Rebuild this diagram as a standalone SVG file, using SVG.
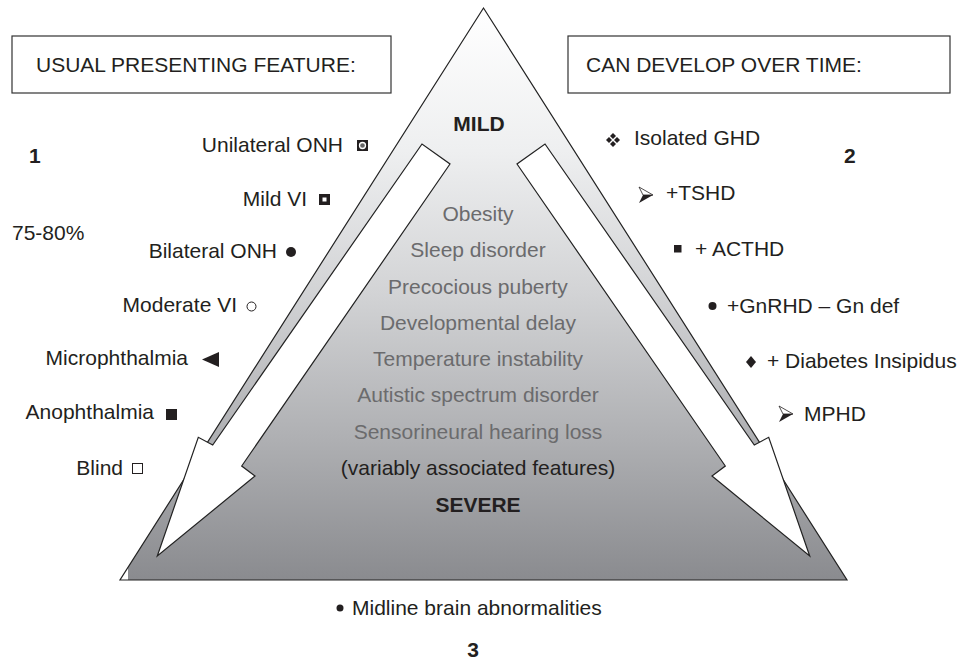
<svg xmlns="http://www.w3.org/2000/svg" width="961" height="672" viewBox="0 0 961 672">
<defs>
<linearGradient id="g" gradientUnits="userSpaceOnUse" x1="0" y1="8" x2="0" y2="580">
<stop offset="0" stop-color="#ffffff"/>
<stop offset="0.25" stop-color="#eeeff0"/>
<stop offset="0.5" stop-color="#d2d3d5"/>
<stop offset="0.75" stop-color="#afb0b3"/>
<stop offset="1" stop-color="#8a8b8f"/>
</linearGradient>
</defs>
<style>
text{font-family:"Liberation Sans",Arial,sans-serif;font-size:21px;fill:#231f20}
.b{font-weight:bold}
.c{text-anchor:middle}
.e{text-anchor:end}
.g{fill:#6b6b6d}
.box{fill:#fff;stroke:#333;stroke-width:1.2}
.ln{fill:none;stroke:#222;stroke-width:1.2;stroke-linejoin:miter}
.arr{fill:#fff;stroke:#222;stroke-width:1.2;stroke-linejoin:miter}
.k{fill:#231f20}
.o{fill:#fff;stroke:#231f20;stroke-width:1}
</style>
<g id="box-left">
<rect class="box" x="12" y="36" width="379" height="57"/>
<text x="36" y="72">USUAL PRESENTING FEATURE:</text>
</g>
<g id="box-right">
<rect class="box" x="568" y="36" width="382" height="57"/>
<text x="586" y="72">CAN DEVELOP OVER TIME:</text>
</g>
<g id="triangle">
<polygon points="483.5,8 128,567.4 128,580 847,580" fill="url(#g)"/>
<polygon class="ln" points="483.5,8 120,580 847,580"/>
<text class="b c" x="479" y="131">MILD</text>
<text class="c g" x="478" y="220.5">Obesity</text>
<text class="c g" x="478" y="257">Sleep disorder</text>
<text class="c g" x="478" y="294">Precocious puberty</text>
<text class="c g" x="478" y="329.5">Developmental delay</text>
<text class="c g" x="478" y="366">Temperature instability</text>
<text class="c g" x="478" y="402">Autistic spectrum disorder</text>
<text class="c g" x="478" y="439">Sensorineural hearing loss</text>
<text class="c" x="478" y="475">(variably associated features)</text>
<text class="b c" x="478" y="512">SEVERE</text>
</g>
<g id="connectors">
<polygon class="arr" points="422,144 212.7,445 198.3,437.3 157.3,556 255,476 241.7,466 450,164"/>
<polygon class="arr" points="545,144 754.3,445 768.7,437.3 809.7,556 712,476 725.3,466 517,164"/>
</g>
<g id="left-list">
<text class="b" x="29" y="163">1</text>
<text x="12" y="240">75-80%</text>
<text class="e" x="343" y="152">Unilateral ONH</text>
<rect class="k" x="357" y="140" width="11" height="11"/>
<circle cx="362.5" cy="145.5" r="3" fill="#666" stroke="#fff" stroke-width="1.3"/>
<text class="e" x="307" y="206">Mild VI</text>
<rect class="k" x="319" y="194" width="11" height="11"/>
<rect x="322.5" y="197.5" width="4" height="4" fill="#fff"/>
<text class="e" x="277" y="258">Bilateral ONH</text>
<circle class="k" cx="291" cy="252" r="5"/>
<text class="e" x="237" y="312">Moderate VI</text>
<circle class="o" cx="251.5" cy="306.5" r="4.5"/>
<text class="e" x="188" y="365">Microphthalmia</text>
<polygon class="k" points="202,359.5 219,352 219,367"/>
<text class="e" x="154" y="419">Anophthalmia</text>
<rect class="k" x="166" y="409" width="11" height="11"/>
<text class="e" x="123" y="475">Blind</text>
<rect class="o" x="132.5" y="463.5" width="10" height="10"/>
</g>
<g id="right-list">
<text class="b" x="844" y="163">2</text>
<g class="k">
<polygon points="613,133 616,136 613,139 610,136"/>
<polygon points="613,141 616,144 613,147 610,144"/>
<polygon points="609,137 612,140 609,143 606,140"/>
<polygon points="617,137 620,140 617,143 614,140"/>
</g>
<text x="634" y="145">Isolated GHD</text>
<polygon points="639,187 653,195 643,195" fill="#fff" stroke="#231f20" stroke-width="0.8"/>
<polygon class="k" points="643,195 653,195 639,203"/>
<text x="666" y="200">+TSHD</text>
<rect class="k" x="674" y="245" width="7.5" height="7.5"/>
<text x="695" y="256">+ ACTHD</text>
<circle class="k" cx="712.5" cy="306" r="4"/>
<text x="727" y="313">+GnRHD – Gn def</text>
<polygon class="k" points="751,356 756,362 751,368 746,362"/>
<text x="767" y="368">+ Diabetes Insipidus</text>
<polygon points="779,406 793,414 783,414" fill="#fff" stroke="#231f20" stroke-width="0.8"/>
<polygon class="k" points="783,414 793,414 779,422"/>
<text x="804" y="421">MPHD</text>
</g>
<g id="bottom">
<circle class="k" cx="340" cy="608" r="3.5"/>
<text x="352" y="615">Midline brain abnormalities</text>
<text class="b c" x="473" y="657">3</text>
</g>
</svg>
